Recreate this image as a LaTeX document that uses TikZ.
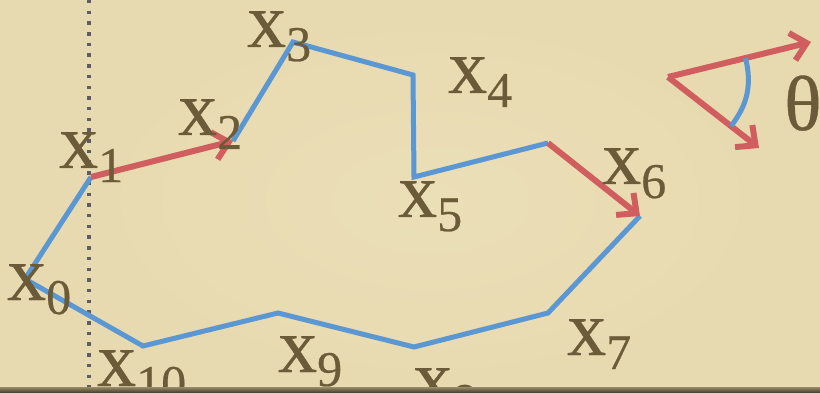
\documentclass[tikz,border=0pt]{standalone}
\usepackage{fontspec}
\setmainfont{Liberation Serif}
\newfontfamily\lblfont[FakeBold=0.5]{Liberation Serif}
\usetikzlibrary{arrows.meta}
\definecolor{bg}{HTML}{E8DAB0}
\definecolor{bgc}{HTML}{EBDFB8}
\definecolor{ink}{HTML}{6B5B38}
\definecolor{bl}{HTML}{5B97D3}
\definecolor{rd}{HTML}{D05E5E}
\definecolor{dotc}{HTML}{5E5E62}
\definecolor{edgeA}{HTML}{9A8C68}
\definecolor{edgeB}{HTML}{3E372B}
\newcommand{\xlbl}[1]{\lblfont\fontsize{78}{78}\selectfont x\raisebox{-14pt}{\fontsize{50}{50}\selectfont #1}}
\begin{document}
\begin{tikzpicture}[x=1pt,y=-1pt,
  lbl/.style={anchor=base west, inner sep=0pt, text=ink},
  poly/.style={draw=bl, line width=5pt, line join=miter},
  vec/.style={draw=rd, line width=6pt, -{Straight Barb[length=15pt,width=28pt,line width=6pt]}},
  dotline/.style={draw=dotc, line width=4pt, dash pattern=on 3.5pt off 7.2pt}]
\useasboundingbox (0,0) rectangle (820,393);
\clip (0,0) rectangle (820,393);
\fill[bg] (0,0) rectangle (820,393);
\shade[inner color=bgc, outer color=bg] (100,20) rectangle (760,380);
% dotted vertical line
\coordinate (dtop) at (89,0);
\coordinate (dbot) at (89,393);
\draw[dotline] (dtop) -- (dbot);
% vertices
\coordinate (v0) at (25,279);
\coordinate (v1) at (91,177);
\coordinate (v2) at (233,141);
\coordinate (v3) at (293,42);
\coordinate (v4) at (413,75);
\coordinate (v5) at (414,177);
\coordinate (v6a) at (548,143);
\coordinate (v6) at (640,216);
\coordinate (v7) at (548,313);
\coordinate (v8) at (414,347);
\coordinate (v9) at (278,313);
\coordinate (v10) at (143,346);
% polygon
\draw[poly] (v2) -- (v3) -- (v4) -- (v5) -- (v6a);
\draw[poly] (v6) -- (v7) -- (v8) -- (v9) -- (v10) -- (v0) -- (v1);
\draw[vec] (v1) -- (v2);
\draw[vec] (v6a) -- (v6);
% labels
\node[lbl] (l0) at (7,300) {\xlbl{0}};
\node[lbl] (l1) at (59,168) {\xlbl{1}};
\node[lbl] (l2) at (178,135) {\xlbl{2}};
\node[lbl] (l3) at (247,47) {\xlbl{3}};
\node[lbl] (l4) at (448,93) {\xlbl{4}};
\node[lbl] (l5) at (398,217) {\xlbl{5}};
\node[lbl] (l6) at (602,184) {\xlbl{6}};
\node[lbl] (l7) at (567,355) {\xlbl{7}};
\node[lbl] (l8) at (413,404) {\xlbl{8}};
\node[lbl] (l9) at (278,372) {\xlbl{9}};
\node[lbl] (l10) at (97,386) {\xlbl{10}};
% angle figure
\coordinate (t0) at (668,77);
\coordinate (t1) at (811,42);
\coordinate (t2) at (759,148);
\coordinate (a1) at (745.5,58);
\coordinate (a2) at (731,126);
\draw[vec] (t0) -- (t1);
\draw[vec] (t0) -- (t2);
\draw[draw=bl, line width=5pt] (a1) to[bend left=26] (a2);
\node[lbl] (lt) at (784,130) {\lblfont\fontsize{78}{78}\selectfont θ};
% bottom edge
\shade[top color=edgeA, bottom color=edgeB] (0,387) rectangle (820,393);
\end{tikzpicture}
\end{document}
